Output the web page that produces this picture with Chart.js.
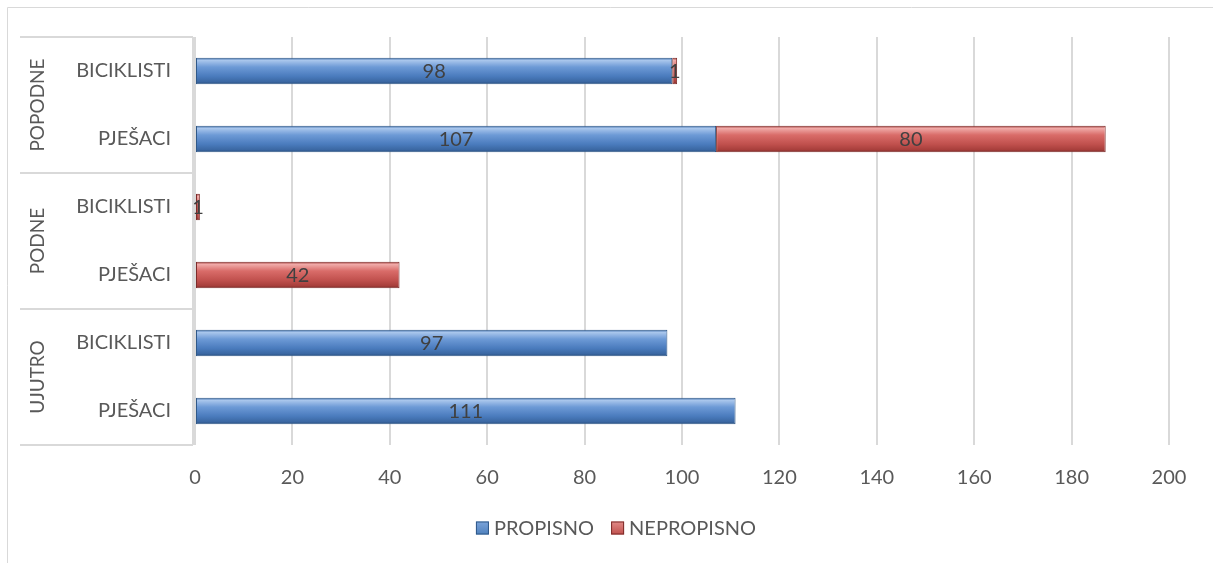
<!DOCTYPE html>
<html>
<head>
<meta charset="utf-8">
<script src="https://cdn.jsdelivr.net/npm/chart.js@4.4.0/dist/chart.umd.min.js"></script>
<style>
html,body{margin:0;padding:0;background:#fff;}
#wrap{position:relative;width:1213px;height:563px;}
</style>
</head>
<body>
<div id="wrap"><canvas id="c" width="1213" height="563"></canvas></div>
<script>
const groups = ['POPODNE', 'PODNE', 'UJUTRO'];
const subLabels = ['BICIKLISTI', 'PJEŠACI', 'BICIKLISTI', 'PJEŠACI', 'BICIKLISTI', 'PJEŠACI'];
const propisno = [98, 107, 0, 0, 97, 111];
const nepropisno = [1, 80, 1, 42, 0, 0];
const seriesNames = ['PROPISNO', 'NEPROPISNO'];
const xTicks = [0, 20, 40, 60, 80, 100, 120, 140, 160, 180, 200];

const FONT = 'Lato, "Liberation Sans", sans-serif';
const TXT = '#595959';
const BAR_PCT = 0.39;

const palettes = {
  blue: [[0,'#3a6aa8'],[0.1,'#a9c6ec'],[0.35,'#6d9ad6'],[0.7,'#4a7bbd'],[0.9,'#3b68a3'],[1,'#2a4f80']],
  red:  [[0,'#a03a37'],[0.1,'#f0aaa8'],[0.35,'#d96c69'],[0.7,'#c0504d'],[0.9,'#a83f3c'],[1,'#7d2b29']]
};
const legendFill = ['#4f81bd', '#c0504d'];
const legendStroke = ['#2f5888', '#7d2b29'];

function gradFill(name, base) {
  return function(ctx) {
    const chart = ctx.chart;
    if (!chart.chartArea || ctx.dataIndex === undefined) return base;
    const ys = chart.scales.y;
    const y = ys.getPixelForValue(ctx.dataIndex);
    const h = (ys.height / subLabels.length) * BAR_PCT;
    const g = chart.ctx.createLinearGradient(0, y - h/2, 0, y + h/2);
    palettes[name].forEach(s => g.addColorStop(s[0], s[1]));
    return g;
  };
}

const framePlugin = {
  id: 'frame',
  beforeDraw(chart) {
    const c = chart.ctx;
    c.save();
    c.strokeStyle = '#d9d9d9';
    c.lineWidth = 1;
    c.beginPath();
    c.moveTo(7.5, 563); c.lineTo(7.5, 7.5); c.lineTo(1213, 7.5);
    c.stroke();
    c.restore();
  },
  afterDraw(chart) {
    const c = chart.ctx;
    const ys = chart.scales.y;
    const ca = chart.chartArea;
    const step = ys.height / subLabels.length;
    c.save();
    c.strokeStyle = '#d9d9d9';
    c.lineWidth = 2;
    for (let i = 0; i <= groups.length; i++) {
      const y = ca.top + i * step * 2;
      c.beginPath(); c.moveTo(20, y); c.lineTo(ca.left - 2, y); c.stroke();
    }
    c.beginPath(); c.moveTo(ca.left - 2, ca.top); c.lineTo(ca.left - 2, ca.bottom); c.stroke();
    c.fillStyle = TXT;
    c.font = '19px ' + FONT;
    c.textAlign = 'center';
    c.textBaseline = 'middle';
    groups.forEach((g, i) => {
      const cy = ca.top + (i * 2 + 1) * step;
      c.save();
      c.translate(38, cy);
      c.rotate(-Math.PI / 2);
      c.fillText(g, 0, 0);
      c.restore();
    });
    // data labels
    c.fillStyle = '#404040';
    c.font = '20px ' + FONT;
    chart.data.datasets.forEach((ds, di) => {
      const meta = chart.getDatasetMeta(di);
      meta.data.forEach((bar, i) => {
        const v = ds.data[i];
        if (!v) return;
        const p = bar.getProps(['x', 'y', 'base'], true);
        c.fillText(String(v), (p.x + p.base) / 2, p.y + 1);
      });
    });
    // legend
    c.font = '20px ' + FONT;
    c.textAlign = 'left';
    const box = 13, gapBox = 5, gapItem = 17, ly = 528;
    const widths = chart.data.datasets.map(d => c.measureText(d.label).width);
    const total = widths.reduce((a, w) => a + box + gapBox + w, 0) + gapItem * (widths.length - 1);
    let x = 616 - total / 2;
    chart.data.datasets.forEach((d, i) => {
      const g = c.createLinearGradient(0, ly - box/2, 0, ly + box/2);
      g.addColorStop(0, i === 0 ? '#7aa3da' : '#e28b88');
      g.addColorStop(1, legendFill[i]);
      c.fillStyle = g;
      c.fillRect(x, ly - box/2, box, box);
      c.strokeStyle = legendStroke[i];
      c.lineWidth = 1;
      c.strokeRect(x + 0.5, ly - box/2 + 0.5, box - 1, box - 1);
      x += box + gapBox;
      c.fillStyle = TXT;
      c.fillText(d.label, x, ly + 1);
      x += widths[i] + gapItem;
    });
    c.restore();
  }
};

new Chart(document.getElementById('c'), {
  type: 'bar',
  data: {
    labels: subLabels,
    datasets: [
      { label: seriesNames[0], data: propisno, backgroundColor: gradFill('blue', '#4f81bd'), borderColor: '#2f5888', borderWidth: 1, borderSkipped: false },
      { label: seriesNames[1], data: nepropisno, backgroundColor: gradFill('red', '#c0504d'), borderColor: '#7d2b29', borderWidth: 1, borderSkipped: false }
    ]
  },
  options: {
    indexAxis: 'y',
    responsive: false,
    animation: false,
    devicePixelRatio: 1,
    categoryPercentage: 1,
    barPercentage: BAR_PCT,
    layout: { padding: { top: 37, right: 44, bottom: 67, left: 0 } },
    plugins: {
      tooltip: { enabled: false },
      legend: { display: false }
    },
    scales: {
      x: {
        stacked: true,
        min: 0, max: 200,
        afterBuildTicks(s) { s.ticks = xTicks.map(v => ({ value: v })); },
        afterFit(s) { s.height = 51; },
        grid: { color: '#d9d9d9', lineWidth: 2, drawTicks: false },
        border: { display: false },
        ticks: { font: { family: FONT, size: 20 }, color: TXT, padding: 21 }
      },
      y: {
        stacked: true,
        grid: { display: false, drawTicks: false },
        border: { display: false },
        afterFit(s) { s.width = 195; },
        ticks: { font: { family: FONT, size: 20 }, color: TXT, padding: 24 }
      }
    }
  },
  plugins: [framePlugin]
});
</script>
</body>
</html>
